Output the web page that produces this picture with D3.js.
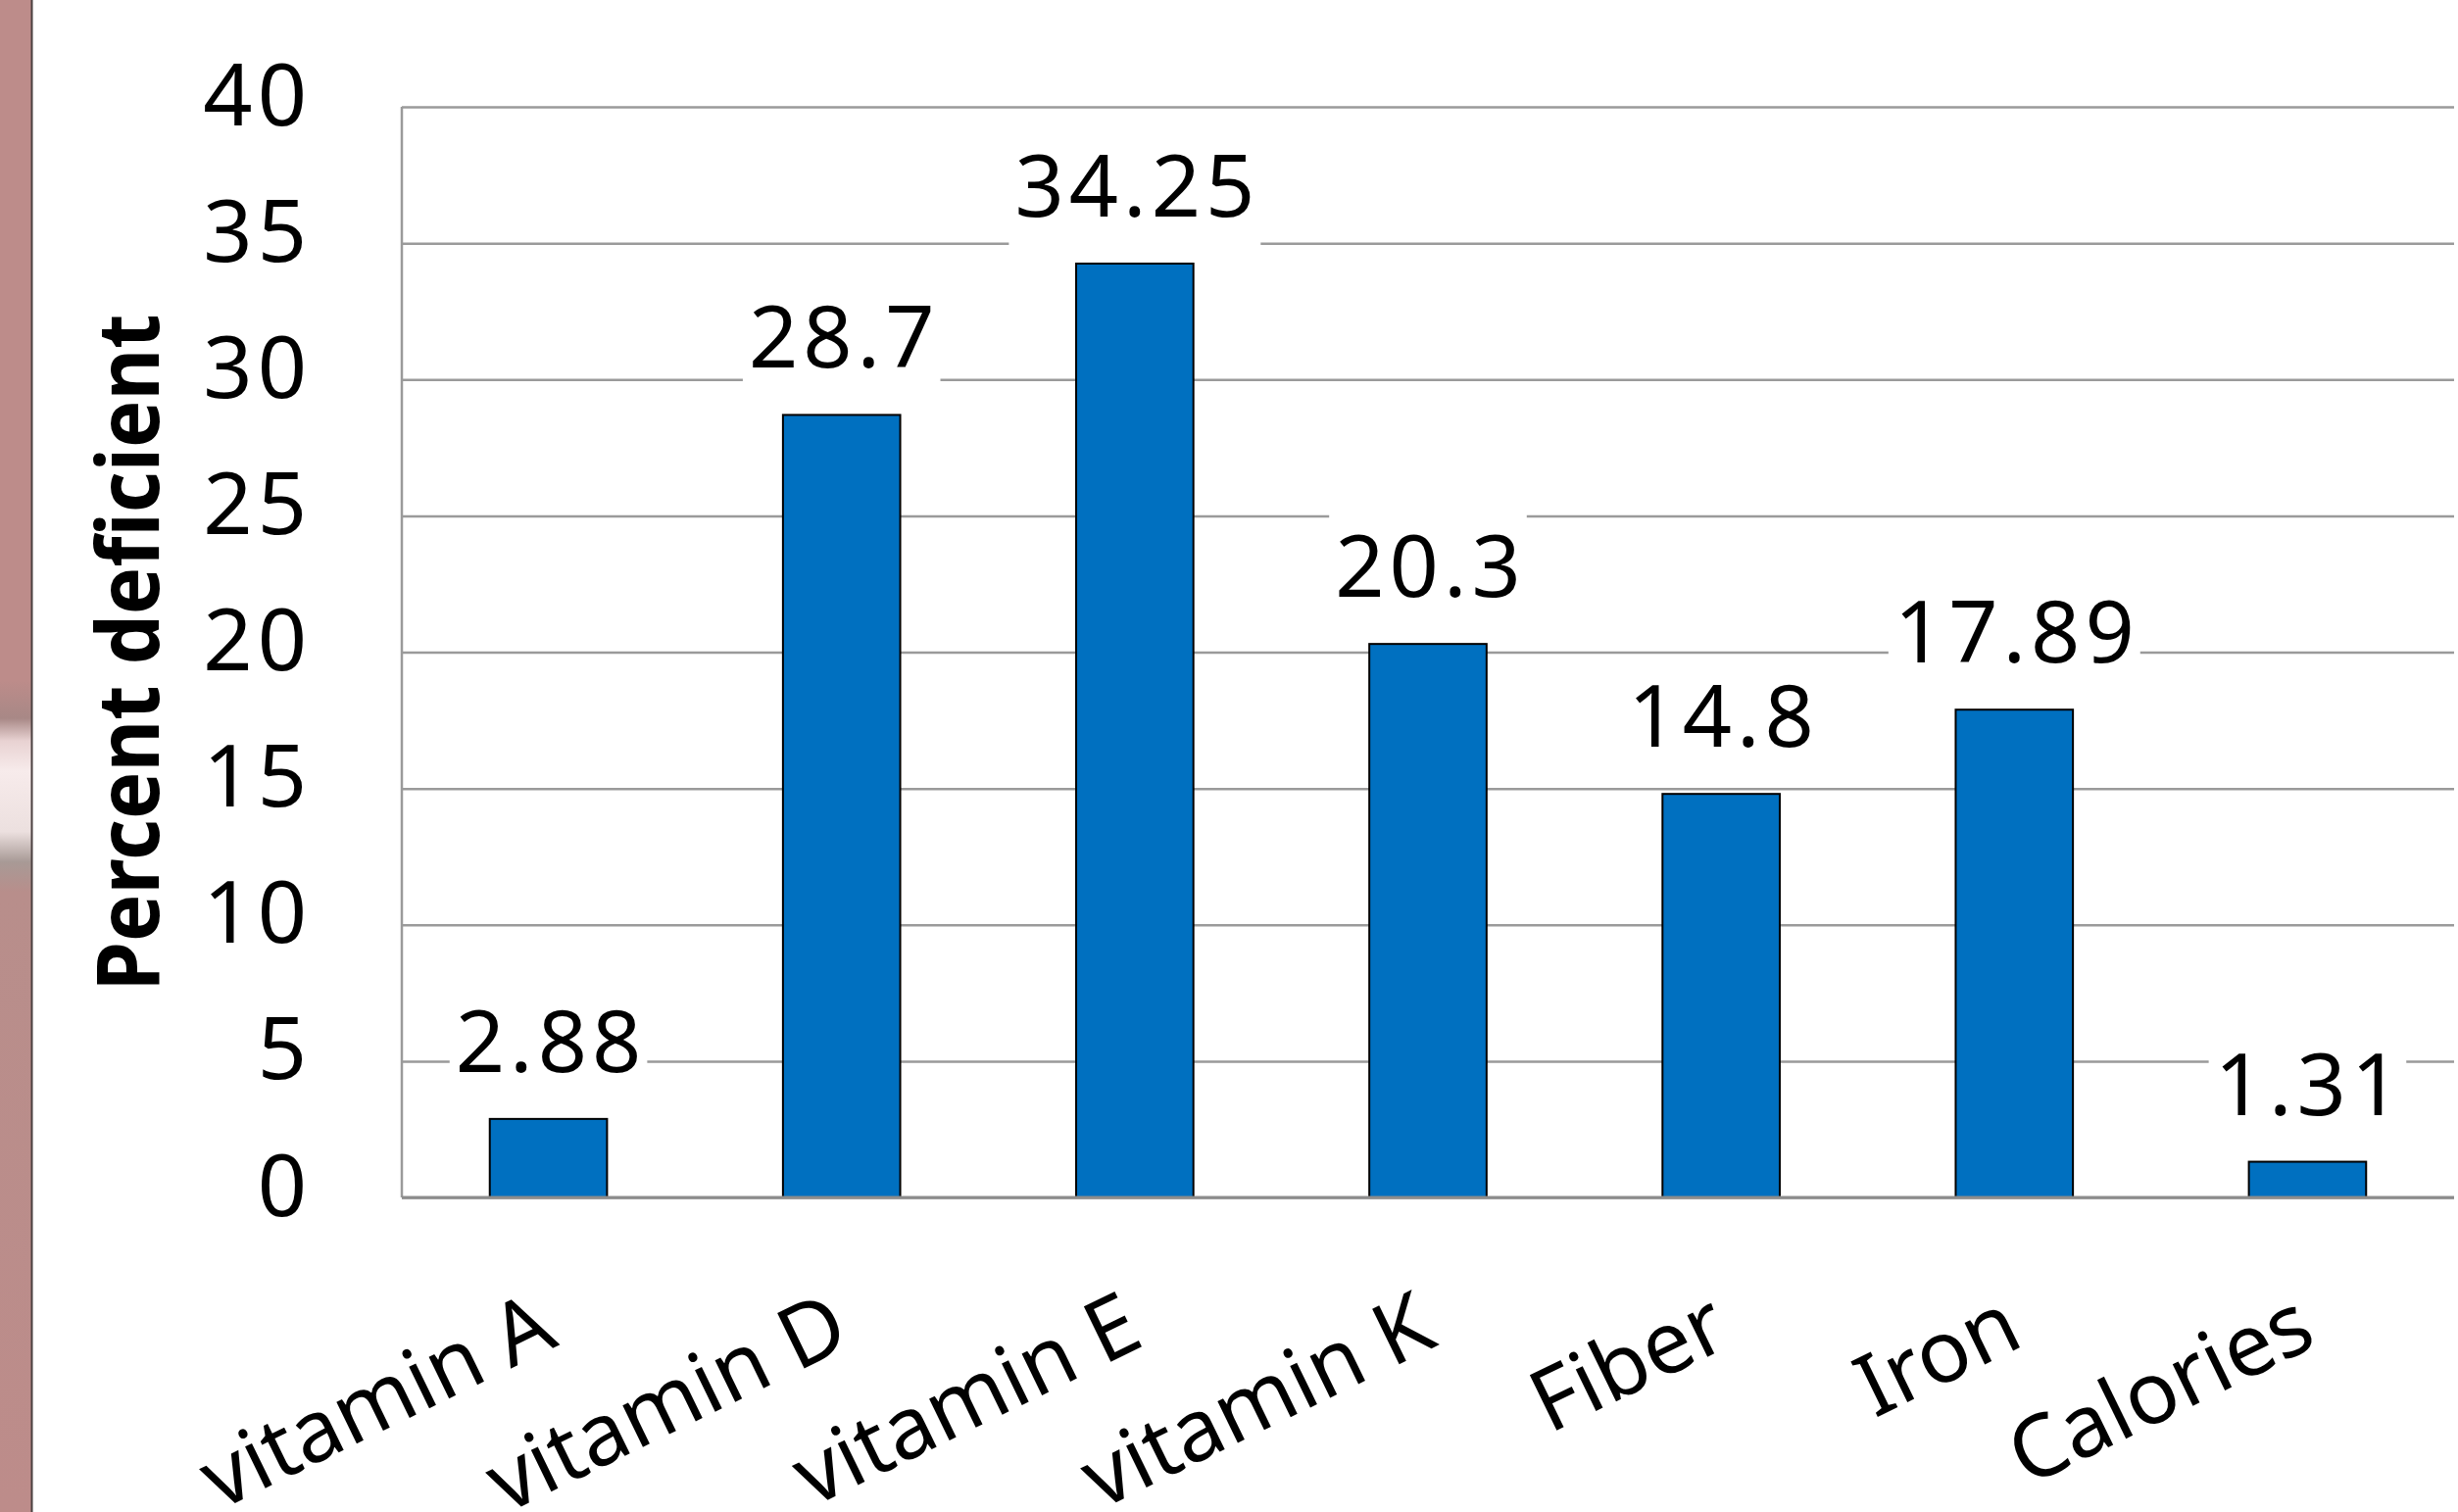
<!DOCTYPE html>
<html>
<head>
<meta charset="utf-8">
<script src="https://cdn.jsdelivr.net/npm/d3@7"></script>
<style>
  html, body { margin: 0; padding: 0; background: #ffffff; }
  svg { display: block; }
  text { font-family: "Noto Sans", "Open Sans", sans-serif; fill: #000; }
</style>
</head>
<body>
<script>
// Share of people deficient in each nutrient
const categories = ["vitamin A", "vitamin D", "vitamin E", "vitamin K", "Fiber", "Iron", "Calories"];
const values = [2.88, 28.7, 34.25, 20.3, 14.8, 17.89, 1.31];
const valueLabels = ["2.88", "28.7", "34.25", "20.3", "14.8", "17.89", "1.31"];
const yTicks = [0, 5, 10, 15, 20, 25, 30, 35, 40];
const yTitle = "Percent deficient";

const W = 2508, H = 1543;
const plot = { left: 410, right: 2504, top: 109, bottom: 1222 };

const svg = d3.select("body").append("svg")
  .attr("width", W).attr("height", H);

// decorative slide edge on the far left
const defs = svg.append("defs");
const grad = defs.append("linearGradient")
  .attr("id", "edge").attr("x1", 0).attr("y1", 0).attr("x2", 0).attr("y2", 1);
[[0, "#bd8c8a"], [0.45, "#bd8c8a"], [0.475, "#a88886"], [0.49, "#e8d2d2"],
 [0.51, "#f7ebeb"], [0.55, "#ece0df"], [0.57, "#a89a96"], [0.59, "#b88e8b"], [1, "#bd8c8a"]]
  .forEach(([o, c]) => grad.append("stop").attr("offset", o).attr("stop-color", c));
svg.append("rect").attr("x", 0).attr("y", 0).attr("width", 32).attr("height", H)
  .attr("fill", "url(#edge)");
svg.append("line").attr("x1", 32.5).attr("x2", 32.5).attr("y1", 0).attr("y2", H)
  .attr("stroke", "#4a4040").attr("stroke-width", 2);

const x = d3.scaleBand()
  .domain(categories)
  .range([plot.left, plot.right])
  .paddingInner(0.6)
  .paddingOuter(0.3);

const y = d3.scaleLinear()
  .domain([0, 40])
  .range([plot.bottom, plot.top]);

// horizontal gridlines
const grid = svg.append("g")
  .attr("transform", `translate(${plot.left},0)`)
  .call(d3.axisLeft(y).tickValues(yTicks).tickSize(-(plot.right - plot.left)).tickFormat(""));
grid.select(".domain").remove();
grid.selectAll(".tick line").attr("stroke", "#9a9a9a").attr("stroke-width", 2.5);

// left edge of the plot area
svg.append("line")
  .attr("x1", plot.left).attr("x2", plot.left)
  .attr("y1", y(40)).attr("y2", y(0))
  .attr("stroke", "#9a9a9a").attr("stroke-width", 2.5);

// y tick labels
const yAxis = svg.append("g")
  .attr("transform", `translate(${plot.left},0)`)
  .call(d3.axisLeft(y).tickValues(yTicks).tickSize(0).tickPadding(92).tickFormat(d3.format("d")));
yAxis.select(".domain").remove();
yAxis.selectAll("text")
  .attr("dy", "18px")
  .style("font-size", "88px")
  .style("letter-spacing", "5px")
  .attr("fill", "#000");

// y axis title
svg.append("text")
  .attr("transform", `translate(162,666) rotate(-90)`)
  .attr("text-anchor", "middle")
  .attr("textLength", 691)
  .attr("lengthAdjust", "spacingAndGlyphs")
  .style("font-size", "88px")
  .style("font-weight", "bold")
  .text(yTitle);

// value labels with white backing that breaks the gridlines
const labelG = svg.append("g");
const labels = labelG.selectAll("g.lbl")
  .data(categories.map((c, i) => ({ c, v: values[i], t: valueLabels[i] })))
  .join("g").attr("class", "lbl");

labels.append("rect").attr("fill", "#ffffff");
labels.append("text")
  .attr("x", d => x(d.c) + x.bandwidth() / 2 + 2.5)
  .attr("y", d => y(d.v) - 48)
  .attr("text-anchor", "middle")
  .style("font-size", "88px")
  .style("letter-spacing", "5px")
  .text(d => d.t);

labels.each(function(d) {
  const g = d3.select(this);
  const bb = g.select("text").node().getBBox();
  const base = y(d.v) - 48;
  g.select("rect")
    .attr("x", bb.x - 6)
    .attr("width", bb.width + 7)
    .attr("y", base - 88)
    .attr("height", 118);
});

// bars
svg.append("g").selectAll("rect")
  .data(categories.map((c, i) => ({ c, v: values[i] })))
  .join("rect")
  .attr("x", d => x(d.c))
  .attr("y", d => y(d.v))
  .attr("width", x.bandwidth())
  .attr("height", d => y(0) - y(d.v))
  .attr("fill", "#0070c0")
  .attr("stroke", "#000")
  .attr("stroke-width", 2);

// zero baseline drawn over bar bottoms
svg.append("line")
  .attr("x1", plot.left).attr("x2", plot.right)
  .attr("y1", y(0)).attr("y2", y(0))
  .attr("stroke", "#8c8c8c").attr("stroke-width", 3);

// rotated category labels
svg.append("g").selectAll("text")
  .data(categories)
  .join("text")
  .attr("transform", d => `translate(${x(d) + x.bandwidth() / 2 + 12},1372) rotate(-26)`)
  .attr("text-anchor", "end")
  .style("font-size", "88px")
  .text(d => d);
</script>
</body>
</html>
